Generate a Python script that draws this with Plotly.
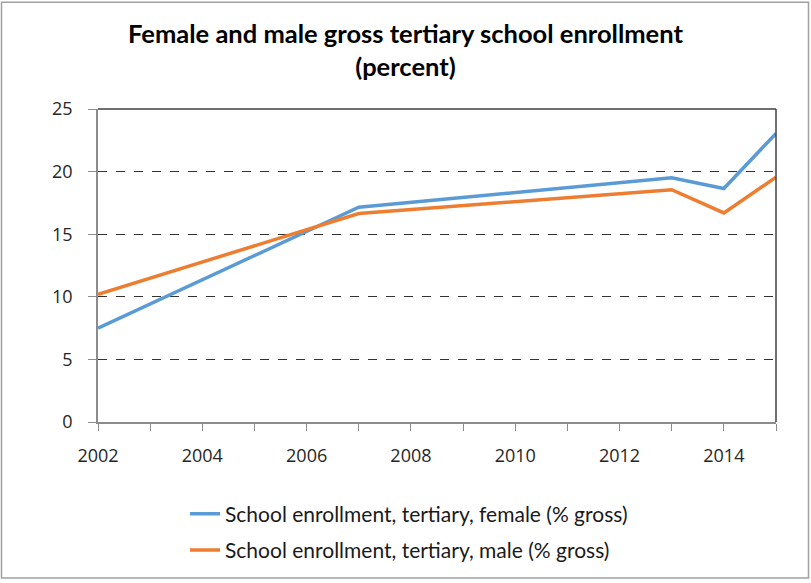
import plotly.graph_objects as go

# Enrollment data (percent gross), read per year
years = [2002, 2007, 2013, 2014, 2015]
female = [7.5, 17.15, 19.5, 18.65, 23.05]
male = [10.2, 16.65, 18.55, 16.7, 19.55]

female_name = "School enrollment, tertiary, female (% gross)"
male_name = "School enrollment, tertiary, male (% gross)"
title_text = "<b>Female and male gross tertiary school enrollment<br>(percent)</b>"

W, H = 811, 583
ML, MR, MT, MB = 98, 35, 109, 159
pw, ph = W - ML - MR, H - MT - MB

fig = go.Figure()
fig.add_trace(go.Scatter(x=years, y=female, mode="lines", name=female_name,
                         legendgroup="f",
                         line=dict(color="#5B9BD5", width=3.5)))
fig.add_trace(go.Scatter(x=years, y=male, mode="lines", name=male_name,
                         legendgroup="m",
                         line=dict(color="#ED7D31", width=3.5)))


# helpers: pixel position -> paper coordinates of the plot area
def px_x(v):
    return (v - ML) / pw


def px_y(v):
    return (H - MB - v) / ph


shapes = [
    # outer chart border
    dict(type="rect", xref="paper", yref="paper",
         x0=px_x(1.5), x1=px_x(808.5), y0=px_y(581), y1=px_y(1.5),
         line=dict(color="#a0a0a0", width=1.5), layer="below"),
    # dark top and right edges of the plot area
    dict(type="line", xref="paper", yref="paper", x0=0, x1=1, y0=1, y1=1,
         line=dict(color="#404040", width=1.5)),
    dict(type="line", xref="paper", yref="paper", x0=1, x1=1, y0=0, y1=1,
         line=dict(color="#404040", width=1.5)),
]

fig.update_layout(
    width=W, height=H,
    margin=dict(l=ML, r=MR, t=MT, b=MB),
    paper_bgcolor="white", plot_bgcolor="white",
    title=dict(text=title_text, x=0.5, xanchor="center", xref="container",
               y=1 - 43 / H, yanchor="middle",
               font=dict(family="Lato", size=25.5, color="#000000")),
    font=dict(family="Open Sans", color="#262626"),
    xaxis=dict(range=[2002, 2015], dtick=2, tick0=2002,
               showgrid=False, zeroline=False,
               showline=True, linecolor="#8c8c8c", linewidth=1.5,
               ticks="outside", ticklen=7, tickcolor="#8c8c8c",
               ticklabelstandoff=10,
               minor=dict(dtick=1, ticks="outside", ticklen=7,
                          tickcolor="#8c8c8c", showgrid=False),
               tickfont=dict(family="Open Sans", size=18, color="#262626")),
    yaxis=dict(range=[0, 25], dtick=5, showgrid=True, gridcolor="#333333",
               griddash="dash", gridwidth=1, zeroline=False,
               showline=True, linecolor="#8c8c8c", linewidth=1.5,
               ticks="outside", ticklen=8, tickcolor="#8c8c8c",
               ticklabelstandoff=12,
               tickfont=dict(family="Open Sans", size=18, color="#262626")),
    legend=dict(orientation="v", x=px_x(185), xanchor="left",
                y=px_y(496), yanchor="top",
                font=dict(family="Lato", size=21, color="#1a1a1a"),
                bgcolor="rgba(0,0,0,0)", tracegroupgap=6),
    shapes=shapes,
    showlegend=True,
)

fig.write_html("out.html")
